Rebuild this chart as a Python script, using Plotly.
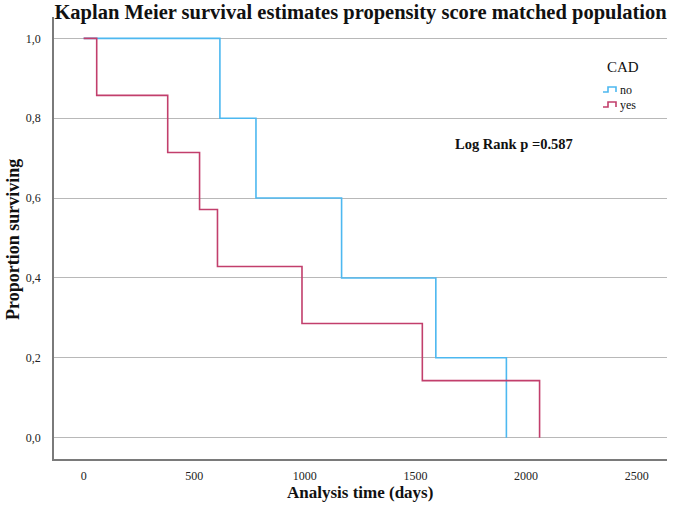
import plotly.graph_objects as go

# ---- data ----
no_times = [0, 616, 779, 1166, 1592, 1911]
no_surv = [1.0, 0.8, 0.6, 0.4, 0.2, 0.0]
yes_times = [0, 59, 380, 524, 605, 987, 1531, 2061]
yes_surv = [1.0, 6/7, 5/7, 4/7, 3/7, 2/7, 1/7, 0.0]
x_ticks = [0, 500, 1000, 1500, 2000, 2500]
y_ticks = [0.0, 0.2, 0.4, 0.6, 0.8, 1.0]
y_ticktext = ["0,0", "0,2", "0,4", "0,6", "0,8", "1,0"]
groups = ["no", "yes"]
p_text = "Log Rank p =0.587"

BLUE = "#4db8f0"
RED = "#c23f6c"
SERIF = "Liberation Serif"

W, H = 679, 511
L, R, T, B = 54, 12, 17, 52


def step(ts, ss):
    xs, ys = [], []
    for i, (t, s) in enumerate(zip(ts, ss)):
        if i > 0:
            xs.append(t)
            ys.append(ss[i - 1])
        xs.append(t)
        ys.append(s)
    return xs, ys


fig = go.Figure()
for name, ts, ss, col in [(groups[0], no_times, no_surv, BLUE),
                          (groups[1], yes_times, yes_surv, RED)]:
    xs, ys = step(ts, ss)
    fig.add_trace(go.Scatter(x=xs, y=ys, mode="lines", name=name,
                             line=dict(color=col, width=1.6),
                             showlegend=False))

pw, ph = W - L - R, H - T - B


def px(x):
    return (x - L) / pw


def py(y):
    return (H - B - y) / ph


shapes = []
annotations = []
# legend glyphs
for yy, col in [(92, BLUE), (107, RED)]:
    path = "M {} {} L {} {} L {} {} L {} {} L {} {}".format(
        px(603), py(yy), px(608), py(yy), px(608), py(yy - 5),
        px(616), py(yy - 5), px(616), py(yy))
    shapes.append(dict(type="path", path=path, xref="paper", yref="paper",
                       line=dict(color=col, width=1.6)))
annotations.append(dict(text="CAD", x=px(605), y=py(67), xref="paper", yref="paper",
                        xanchor="left", yanchor="middle", showarrow=False,
                        font=dict(family=SERIF, size=15, color="#111")))
for yy, g in [(90, groups[0]), (105, groups[1])]:
    annotations.append(dict(text=g, x=px(618), y=py(yy), xref="paper", yref="paper",
                            xanchor="left", yanchor="middle", showarrow=False,
                            font=dict(family=SERIF, size=12, color="#111")))
annotations.append(dict(text="<b>" + p_text + "</b>", x=px(514), y=py(144),
                        xref="paper", yref="paper", xanchor="center", yanchor="middle",
                        showarrow=False, font=dict(family=SERIF, size=14.5, color="#111")))
# axis titles
annotations.append(dict(text="<b>Analysis time (days)</b>", x=px(360), y=py(492),
                        xref="paper", yref="paper", xanchor="center", yanchor="middle",
                        showarrow=False, font=dict(family=SERIF, size=17, color="#111")))
annotations.append(dict(text="<b>Proportion surviving</b>", x=px(13), y=py(240),
                        xref="paper", yref="paper", xanchor="center", yanchor="middle",
                        textangle=-90, showarrow=False,
                        font=dict(family=SERIF, size=18, color="#111")))

fig.update_layout(
    width=W, height=H,
    margin=dict(l=L, r=R, t=T, b=B),
    paper_bgcolor="white", plot_bgcolor="white",
    title=dict(text="<b>Kaplan Meier survival estimates propensity score matched population</b>",
               x=0.5, xref="paper", xanchor="center",
               y=1 - 11.5 / H, yref="container", yanchor="middle",
               font=dict(family=SERIF, size=20.5, color="#111")),
    shapes=shapes, annotations=annotations,
    showlegend=False,
)
fig.update_xaxes(range=[-134, 2637], tickvals=x_ticks, showgrid=False, zeroline=False,
                 showline=True, linecolor="#7a7a7a", linewidth=1.5, ticks="",
                 ticklabelstandoff=5,
                 tickfont=dict(family=SERIF, size=12, color="#222"))
fig.update_yaxes(range=[-0.0535, 1.0535], tickvals=y_ticks, ticktext=y_ticktext,
                 showgrid=True, gridcolor="#b8b8b8", gridwidth=1, zeroline=False,
                 showline=True, linecolor="#7a7a7a", linewidth=1.5, ticks="",
                 ticklabelstandoff=9,
                 tickfont=dict(family=SERIF, size=12, color="#222"))

fig.write_html("out.html")
